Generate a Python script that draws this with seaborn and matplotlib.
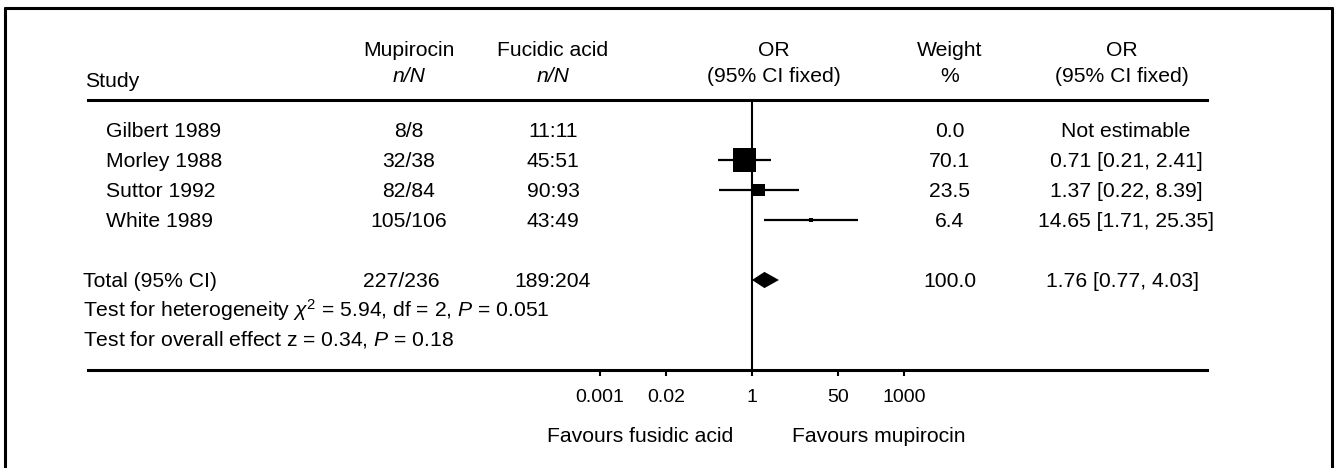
import numpy as np
import pandas as pd
import matplotlib
matplotlib.use('Agg')
import matplotlib.pyplot as plt
import seaborn as sns
from matplotlib import transforms
from matplotlib.lines import Line2D
from matplotlib.ticker import NullLocator

# study level data
studies = ['Gilbert 1989', 'Morley 1988', 'Suttor 1992', 'White 1989']
mupirocin = ['8/8', '32/38', '82/84', '105/106']
fucidic = ['11:11', '45:51', '90:93', '43:49']
weights = [0.0, 70.1, 23.5, 6.4]
or_est = [np.nan, 0.71, 1.37, 14.65]
ci_low = [np.nan, 0.21, 0.22, 1.71]
ci_high = [np.nan, 2.41, 8.39, 125.35]  # whisker as drawn in the figure
or_labels = ['Not estimable', '0.71 [0.21, 2.41]', '1.37 [0.22, 8.39]',
             '14.65 [1.71, 25.35]']

# pooled result
total_mupirocin = '227/236'
total_fucidic = '189:204'
total_weight = 100.0
total_or = 1.76
total_low = 1.0   # diamond as drawn
total_high = 3.4
total_label = '1.76 [0.77, 4.03]'

het_text = r'Test for heterogeneity $\chi^2$ = 5.94, df = 2, $P$ = 0.051'
effect_text = r'Test for overall effect z = 0.34, $P$ = 0.18'

tick_values = [0.001, 0.02, 1, 50, 1000]
tick_labels = ['0.001', '0.02', '1', '50', '1000']

W, H = 1335, 468
FS = 15.2

sns.set_theme(style='white')
plt.rcParams['font.family'] = ['Liberation Sans', 'DejaVu Sans']
plt.rcParams['mathtext.fontset'] = 'custom'
plt.rcParams['mathtext.rm'] = 'Liberation Sans'
plt.rcParams['mathtext.it'] = 'Liberation Sans:italic'
plt.rcParams['text.color'] = 'black'

fig = plt.figure(figsize=(W / 100, H / 100), dpi=100)
fig.patch.set_facecolor('white')

# axes spans the two horizontal rules (y px 100 -> 370)
ax = fig.add_axes([88 / W, (H - 370) / H, (1207 - 88) / W, 270 / H])
ax.set_xscale('log')
ax.set_xlim(10 ** -13.105, 10 ** 8.98)
ax.set_ylim(9, 0)

rows = np.arange(1, len(studies) + 1)
df = pd.DataFrame({'study': studies, 'row': rows, 'weight': weights,
                   'or': or_est, 'lo': ci_low, 'hi': ci_high})
est = df.dropna()

ax.axvline(1, color='black', lw=1.5, zorder=1)
ax.hlines(est['row'], est['lo'], est['hi'], color='black', lw=1.6, zorder=2)
sns.scatterplot(data=est, x='or', y='row', size='weight', sizes=(10, 280),
                marker='s', color='black', linewidth=0, legend=False, ax=ax, zorder=3)

total_row = 6
ax.fill([total_low, total_or, total_high, total_or],
        [total_row, total_row - 0.27, total_row, total_row + 0.27],
        color='black', lw=0, zorder=3)

ax.set_xlabel('')
ax.set_ylabel('')
ax.set_yticks([])
ax.set_xticks(tick_values)
ax.set_xticklabels(tick_labels)
ax.xaxis.set_minor_locator(NullLocator())
ax.tick_params(axis='x', direction='out', length=4.5, width=1.5, pad=9,
               labelsize=14, colors='black', bottom=True)
for side in ['left', 'right']:
    ax.spines[side].set_visible(False)
for side in ['top', 'bottom']:
    ax.spines[side].set_visible(True)
    ax.spines[side].set_linewidth(2.2)
    ax.spines[side].set_color('black')

# text columns: x in figure pixels, y in row units
tr = transforms.blended_transform_factory(fig.transFigure, ax.transData)


def put(px, y, s, ha='center', **kw):
    ax.text(px / W, y, s, transform=tr, ha=ha, va='baseline', fontsize=FS,
            clip_on=False, **kw)


put(85, -0.43, 'Study', ha='left')
put(409, -1.47, 'Mupirocin')
put(409, -0.6, 'n/N', style='italic')
put(553, -1.47, 'Fucidic acid')
put(553, -0.6, 'n/N', style='italic')
put(774, -1.47, 'OR')
put(774, -0.6, '(95% CI fixed)')
put(950, -1.47, 'Weight')
put(950, -0.6, '%')
put(1122, -1.47, 'OR')
put(1122, -0.6, '(95% CI fixed)')

off = 0.24
for r, name, m, f, w, lab in zip(rows, studies, mupirocin, fucidic, weights, or_labels):
    put(106, r + off, name, ha='left')
    put(409, r + off, m)
    put(553, r + off, f)
    put(950, r + off, f'{w:.1f}')
    put(1126, r + off, lab)

put(83, total_row + off, 'Total (95% CI)', ha='left')
put(401, total_row + off, total_mupirocin)
put(553, total_row + off, total_fucidic)
put(950, total_row + off, f'{total_weight:.1f}')
put(1122, total_row + off, total_label)
put(83, 7 + off, het_text, ha='left')
put(83, 7.93 + off, effect_text, ha='left')

fig.text(733 / W, 1 - 442 / H, 'Favours fusidic acid', ha='right', va='baseline', fontsize=FS)
fig.text(792 / W, 1 - 442 / H, 'Favours mupirocin', ha='left', va='baseline', fontsize=FS)

# outer frame (bottom edge is cut off in the original)
for xs, ys in [([5, 5], [8, H + 5]), ([5, 1332], [8, 8]), ([1332, 1332], [8, H + 5])]:
    fig.add_artist(Line2D([x / W for x in xs], [1 - y / H for y in ys],
                          color='black', lw=2.2, transform=fig.transFigure))

fig.savefig('out.png', dpi=100, facecolor='white')
